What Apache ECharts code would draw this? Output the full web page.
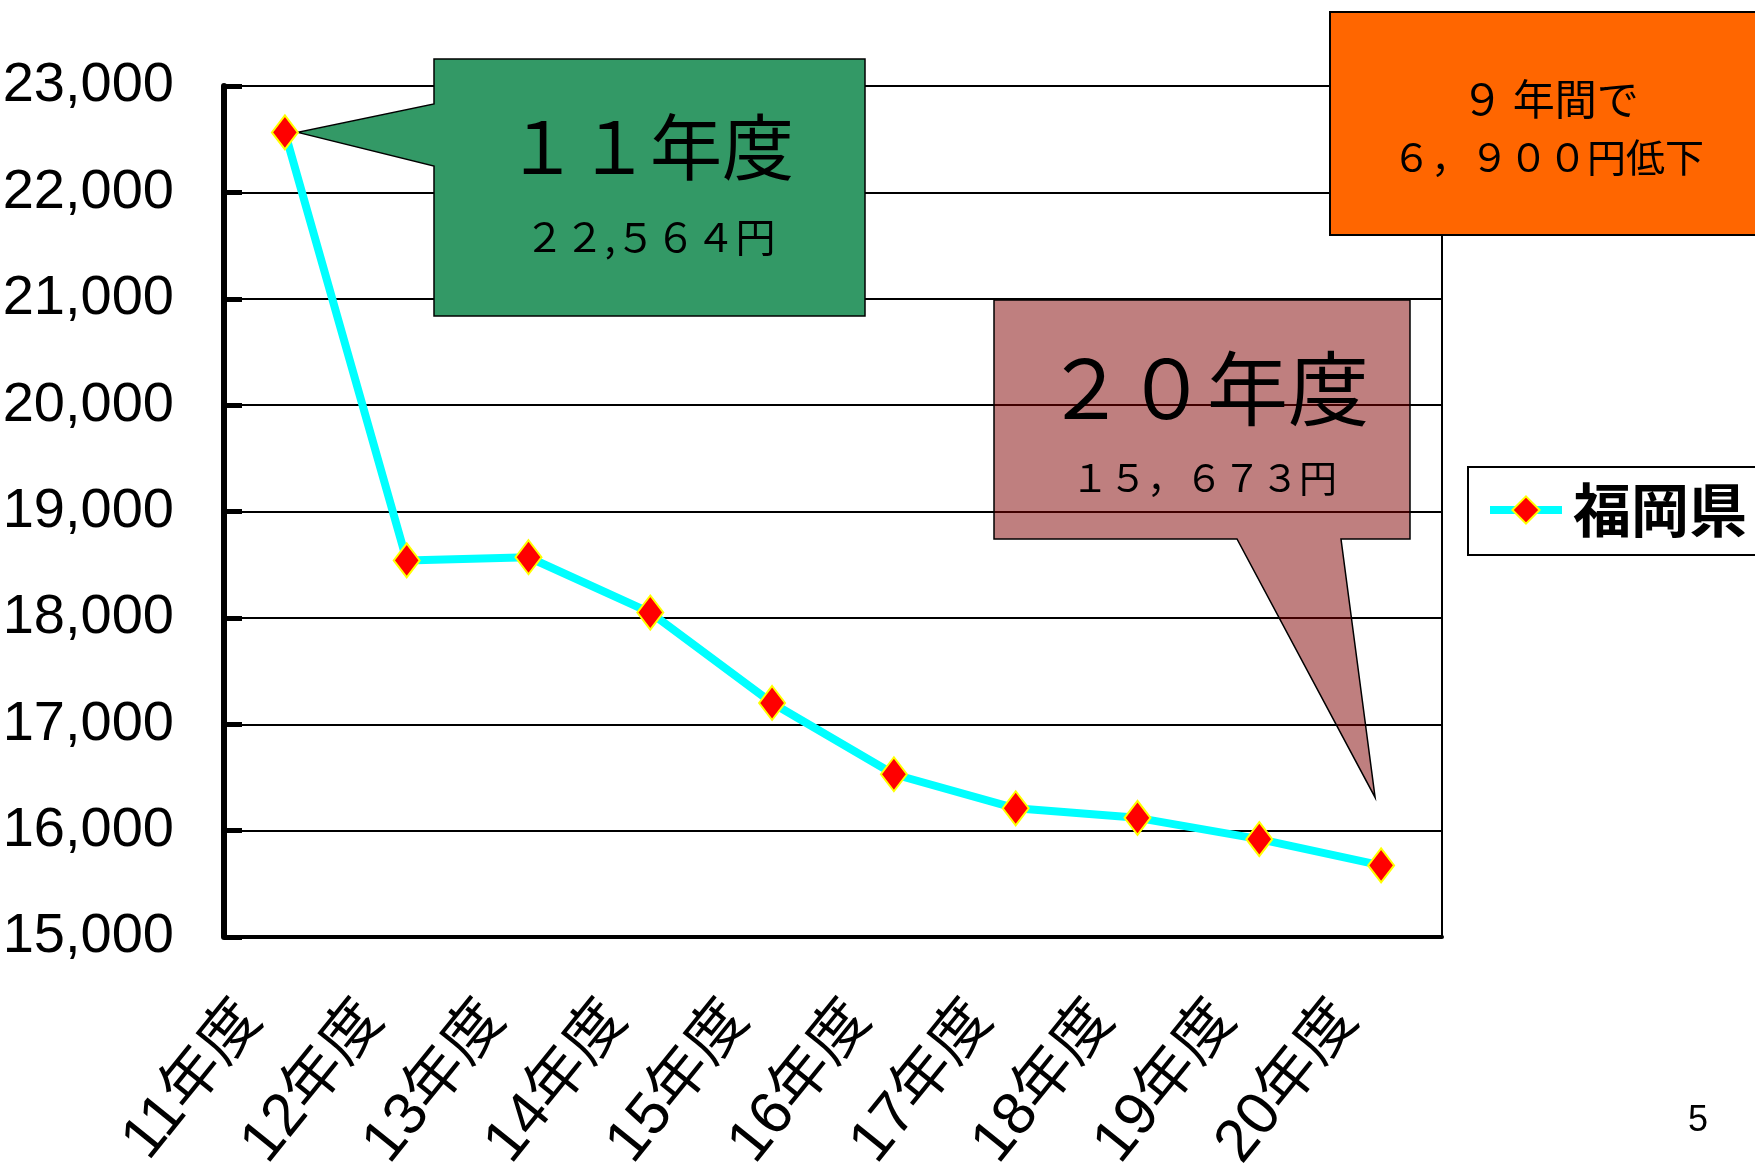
<!DOCTYPE html>
<html>
<head>
<meta charset="utf-8">
<script src="https://cdn.jsdelivr.net/npm/echarts@6/dist/echarts.min.js"></script>
<style>
  html, body { margin: 0; padding: 0; background: #fff; }
  #chart { width: 1755px; height: 1168px; }
</style>
</head>
<body>
<div id="chart"></div>
<script>
  // 年度別データ（福岡県）
  const years = ['11年度', '12年度', '13年度', '14年度', '15年度', '16年度', '17年度', '18年度', '19年度', '20年度']
  const fukuoka = [22564, 18540, 18570, 18050, 17200, 16530, 16210, 16120, 15920, 15673]
  const yTicks = { min: 15000, max: 23000, step: 1000 }

  const jp = "'Noto Sans CJK JP', sans-serif"
  const latin = "'Liberation Sans', 'Noto Sans CJK JP', sans-serif"

  const chart = echarts.init(document.getElementById('chart'))
  chart.setOption({
    animation: false,
    backgroundColor: '#fff',
    grid: {
      left: 224, right: 313, top: 86, bottom: 231,
      containLabel: false, outerBoundsMode: 'none',
      show: true, borderColor: '#000', borderWidth: 2,
      backgroundColor: 'transparent'
    },
    legend: {
      left: 1468, top: 467,
      padding: [14, 30, 16, 18],
      itemGap: 0,
      itemWidth: 72, itemHeight: 34,
      backgroundColor: '#fff',
      borderColor: '#000', borderWidth: 2,
      lineStyle: { width: 8 },
      textStyle: { fontSize: 58, fontWeight: 'bold', fontFamily: jp, color: '#000', padding: [0, 0, 0, 6] }
    },
    xAxis: {
      type: 'category',
      data: years,
      boundaryGap: true,
      axisLine: { lineStyle: { color: '#000', width: 4 } },
      axisTick: { inside: true, length: 22, lineStyle: { color: '#000', width: 1.5 } },
      axisLabel: {
        rotate: 51, interval: 0, margin: 30,
        padding: [0, 55, 0, 0],
        fontSize: 60, fontFamily: latin, color: '#000'
      },
      splitLine: { show: false }
    },
    yAxis: {
      type: 'value',
      min: yTicks.min, max: yTicks.max, interval: yTicks.step,
      axisLine: { show: true, lineStyle: { color: '#000', width: 6 } },
      axisTick: { show: true, inside: true, length: 18, lineStyle: { color: '#000', width: 5 } },
      axisLabel: {
        margin: 50, fontSize: 56, fontFamily: latin, color: '#000',
        padding: [18, 0, 0, 0],
        formatter: v => v.toLocaleString('en-US')
      },
      splitLine: { lineStyle: { color: '#000', width: 2 } }
    },
    series: [{
      name: '福岡県',
      type: 'line',
      data: fukuoka,
      z: 5,
      symbol: 'diamond',
      symbolSize: [26, 34],
      lineStyle: { color: '#00FFFF', width: 8 },
      itemStyle: { color: '#FF0000', borderColor: '#FFFF00', borderWidth: 2 }
    }]
  })

  // 吹き出しの先端はデータ点から求める
  const p11 = chart.convertToPixel({ seriesIndex: 0 }, [0, fukuoka[0]])
  const p20 = chart.convertToPixel({ seriesIndex: 0 }, [9, fukuoka[9]])

  chart.setOption({
    graphic: [
      {
        type: 'polygon', z: 1,
        shape: { points: [[434, 59], [865, 59], [865, 316], [434, 316], [434, 166], [p11[0] + 13, p11[1]], [434, 104]] },
        style: { fill: '#339966', stroke: '#000', lineWidth: 1.5 }
      },
      {
        type: 'text', z: 2, x: 650, y: 147,
        style: { text: '１１年度', fontSize: 72, fontFamily: jp, fill: '#000', align: 'center', verticalAlign: 'middle' }
      },
      {
        type: 'text', z: 2, x: 650, y: 237,
        style: { text: '２２,５６４円', fontSize: 40, fontFamily: jp, fill: '#000', align: 'center', verticalAlign: 'middle' }
      },
      {
        type: 'polygon', z: 1,
        shape: { points: [[994, 300], [1410, 300], [1410, 539], [1341, 539], [p20[0] - 6, p20[1] - 68], [1237, 539], [994, 539]] },
        style: { fill: 'rgba(128,0,0,0.5)', stroke: '#000', lineWidth: 1.5 }
      },
      {
        type: 'text', z: 2, x: 1207, y: 388,
        style: { text: '２０年度', fontSize: 81, fontFamily: jp, fill: '#000', align: 'center', verticalAlign: 'middle' }
      },
      {
        type: 'text', z: 2, x: 1204, y: 478,
        style: { text: '１５，６７３円', fontSize: 38, fontFamily: jp, fill: '#000', align: 'center', verticalAlign: 'middle' }
      },
      {
        type: 'rect', z: 1,
        shape: { x: 1330, y: 12, width: 440, height: 223 },
        style: { fill: '#FF6600', stroke: '#000', lineWidth: 2 }
      },
      {
        type: 'text', z: 2, x: 1550, y: 99,
        style: { text: '９ 年間で', fontSize: 42, fontFamily: jp, fill: '#000', align: 'center', verticalAlign: 'middle' }
      },
      {
        type: 'text', z: 2, x: 1548, y: 157,
        style: { text: '６，９００円低下', fontSize: 39, fontFamily: jp, fill: '#000', align: 'center', verticalAlign: 'middle' }
      },
      {
        type: 'text', z: 2, x: 1698, y: 1121,
        style: { text: '5', fontSize: 36, fontFamily: "'Liberation Sans', sans-serif", fill: '#000', align: 'center', verticalAlign: 'middle' }
      }
    ]
  })
</script>
</body>
</html>
